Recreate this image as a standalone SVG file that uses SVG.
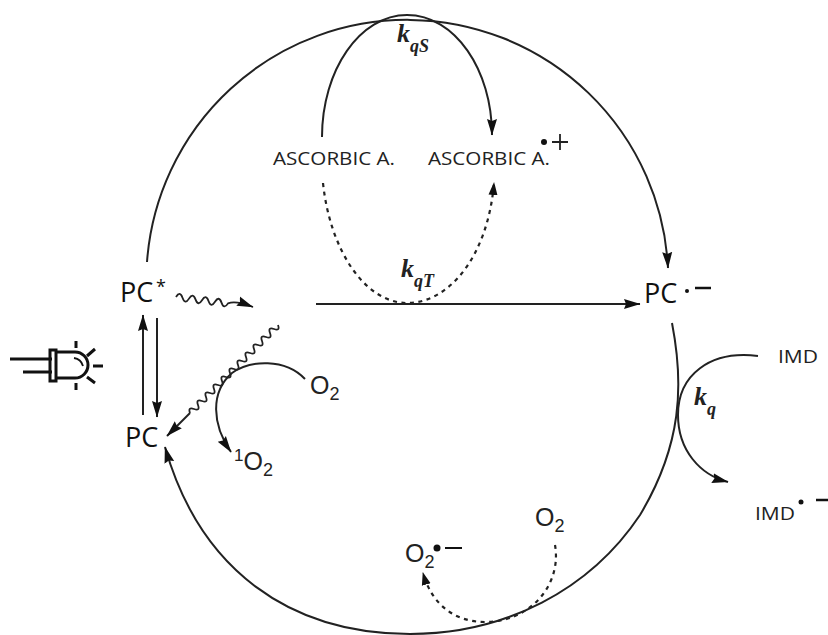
<svg xmlns="http://www.w3.org/2000/svg" width="828" height="635" viewBox="0 0 828 635">
<defs>
<marker id="ah" markerUnits="userSpaceOnUse" markerWidth="18" markerHeight="12" refX="16" refY="5.5" orient="auto"><path d="M0,0.5 L16.5,5.5 L0,10.5 L2,5.5 Z" fill="#111"/></marker>
<marker id="ahs" markerUnits="userSpaceOnUse" markerWidth="14" markerHeight="12" refX="12" refY="5" orient="auto"><path d="M0,0.5 L13,5 L0,9.5 Z" fill="#111"/></marker>
</defs>
<style>
.l{fill:none;stroke:#222;stroke-width:2}
.w{fill:none;stroke:#222;stroke-width:1.8}
.d{fill:none;stroke:#222;stroke-width:2.2;stroke-dasharray:4 4.5}
.a{marker-end:url(#ah)}
.s{marker-end:url(#ahs)}
.pc{font-family:"Open Sans",sans-serif;font-size:27px;fill:#111}
.st{font-family:"Open Sans",sans-serif;font-size:18px;fill:#111}
.as{font-family:"Open Sans",sans-serif;font-size:19px;fill:#222}
.o{font-family:"Liberation Sans",sans-serif;font-size:25px;fill:#222}
.k{font-family:"Liberation Serif",serif;font-weight:bold;font-style:italic;font-size:26px;fill:#222}
.ks{font-size:18px}
</style>
<rect width="828" height="635" fill="#fff"/>
<g id="connectors">
<path class="l a" d="M147,262 A261,261 0 0 1 668,268"/>
<path class="l a" d="M672,323 C684,385 682,445 640,515 C590,590 505,634 410,634 C290,634 200,570 165,447"/>
<path class="l a" d="M316,304 H640"/>
<path class="l a" d="M322,137 C322,70 360,15 407,15 C455,15 492,70 492,135"/>
<path class="d s" d="M323,183 C330,250 365,303 407,303 C450,303 488,255 494,183"/>
<path class="l a" d="M143,415 V315"/>
<path class="l a" d="M157,318 V417"/>
<path class="l a" d="M305,379 C285,358 250,360 232,373 C210,392 212,425 231,452"/>
<path class="l a" d="M758,356 C710,350 678,375 678,415 C678,450 700,475 728,482"/>
<path class="d s" d="M555,545 C562,585 530,622 485,622 C455,622 432,605 423,573"/>
<path class="w a" d="M176,297 q4,-6.5 6.5,0.8 t6.5,0.8 t6.5,0.8 t6.5,0.8 t6.5,0.8 t6.5,0.8 t6.5,0.8 t6.5,0.8 q8,-3 25,3.6"/>
<path class="w" d="M278,325 q2.3,6.3 -4,4 t-4,4 t-4,4 t-4,4 t-4,4 t-4,4 t-4,4 t-4,4 t-4,4 t-4,4 t-4,4 t-4,4 t-4,4 t-4,4 t-4,4 t-4,4 t-4,4 t-4,4 t-4,4 t-4,4 t-4,4 t-4,4"/>
<path class="l a" d="M190,413 L167,436"/>
</g>
<g id="led" fill="none" stroke="#111" stroke-width="3">
<path d="M10,359 H52 M23,372 H52"/>
<rect x="50" y="350" width="6" height="31"/>
<path d="M56,352 H75 A13,13 0 0 1 75,378 H56"/>
<path stroke-width="1.8" d="M74,358 Q81,359 83,366"/>
<path d="M76,341 V348 M87,356 L95,349 M93,366 H103 M87,377 L95,383 M76,383 V390"/>
</g>
<g id="pc-star"><text class="pc" x="120" y="302">PC</text><text class="st" x="156" y="293">*</text></g>
<g id="pc"><text class="pc" x="125" y="447">PC</text></g>
<g id="pc-radical"><text class="pc" x="644" y="303">PC</text><circle cx="687" cy="291" r="2" fill="#111"/><path d="M695,288 H711" stroke="#111" stroke-width="2.5"/></g>
<g id="o2-a"><text class="o" x="310" y="394">O<tspan font-size="18" dy="6">2</tspan></text></g>
<g id="singlet"><text class="o" x="234" y="470"><tspan font-size="17" dy="-9">1</tspan><tspan dy="9">O</tspan><tspan font-size="18" dy="6">2</tspan></text></g>
<g id="asc-1"><text class="as" x="273" y="165" textLength="122" lengthAdjust="spacingAndGlyphs">ASCORBIC A.</text></g>
<g id="asc-2"><text class="as" x="428" y="165" textLength="122" lengthAdjust="spacingAndGlyphs">ASCORBIC A.</text><circle cx="544" cy="142" r="3" fill="#111"/><path d="M552,142 H568 M560,134 V150" stroke="#222" stroke-width="1.8"/></g>
<g id="kqs"><text class="k" x="397" y="42">k<tspan class="ks" dy="10">qS</tspan></text></g>
<g id="kqt"><text class="k" x="401" y="277">k<tspan class="ks" dy="10">qT</tspan></text></g>
<g id="kq"><text class="k" x="694" y="405">k<tspan class="ks" dy="10">q</tspan></text></g>
<g id="imd"><text class="as" x="778" y="363" textLength="40" lengthAdjust="spacingAndGlyphs">IMD</text></g>
<g id="imd-radical"><text class="as" x="755" y="520" textLength="40" lengthAdjust="spacingAndGlyphs">IMD</text><circle cx="801" cy="502" r="2.5" fill="#111"/><path d="M816,500 H828" stroke="#111" stroke-width="2.5"/></g>
<g id="o2-b"><text class="o" x="535" y="526">O<tspan font-size="18" dy="6">2</tspan></text></g>
<g id="o2-radical"><text class="o" x="405" y="562">O<tspan font-size="18" dy="6">2</tspan></text><circle cx="437" cy="548" r="3.5" fill="#111"/><path d="M445,548 H462" stroke="#111" stroke-width="2"/></g>
</svg>
